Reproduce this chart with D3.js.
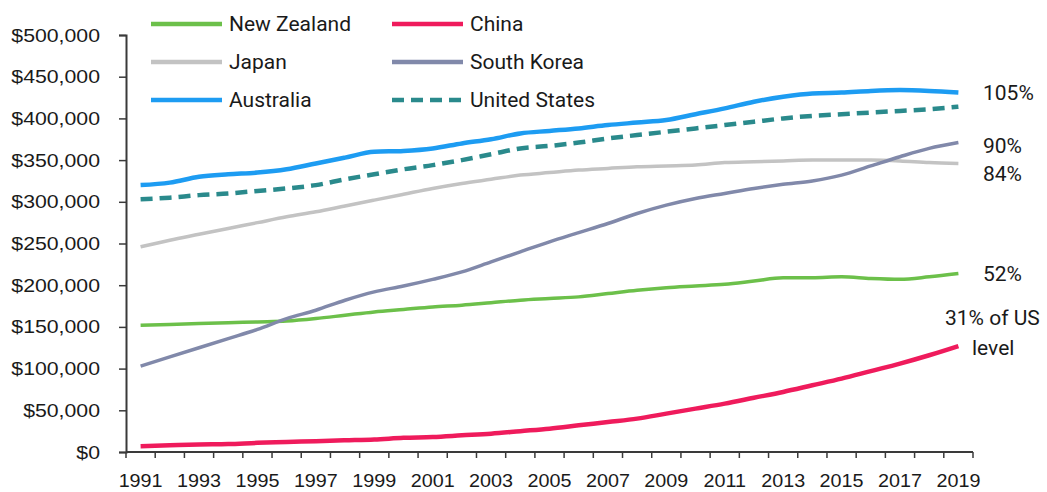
<!DOCTYPE html>
<html>
<head>
<meta charset="utf-8">
<script src="https://cdn.jsdelivr.net/npm/d3@7"></script>
<style>
  html, body { margin: 0; padding: 0; background: #ffffff; }
  svg { display: block; }
</style>
</head>
<body>
<svg id="chart" width="1047" height="492"></svg>
<script>
const years = d3.range(1991, 2020).map(String);
const tickYears = years.filter((y, i) => i % 2 === 0);
const yTicks = [0, 50000, 100000, 150000, 200000, 250000, 300000, 350000, 400000, 450000, 500000];

const newZealand = [152,153,154,155,156,157,160,164,168,171,174,176,179,182,184,186,190,194,197,199,201,205,209,209,210,208,207,210,214].map(v => v * 1000);
const china      = [7,8,9,9.5,11,12,13,14,15,17,18,20,22,25,28,32,36,40,46,52,58,65,72,80,88,97,106,116,127].map(v => v * 1000);
const japan      = [246,254,261,268,275,282,288,295,302,309,316,322,327,332,335,338,340,342,343,344,347,348,349,350,350,350,349,347,346].map(v => v * 1000);
const southKorea = [103,114,125,136,147,160,170,182,192,199,207,216,228,240,252,263,274,286,296,304,310,316,321,325,332,343,354,364,371].map(v => v * 1000);
const australia  = [320,323,330,333,335,339,346,353,360,361,364,370,375,382,385,388,392,395,398,405,412,420,426,430,431,433,434,433,431].map(v => v * 1000);
const unitedStates = [303,305,308,310,313,316,320,327,333,339,344,350,357,364,367,371,376,380,384,388,392,396,400,403,405,407,409,411,414].map(v => v * 1000);

const seriesNames = ["New Zealand", "China", "Japan", "South Korea", "Australia", "United States"];
const seriesValues = [newZealand, china, japan, southKorea, australia, unitedStates];
const endLabels = ["52%", "31% of US", "84%", "90%", "105%", ""];

const colors = {
  "New Zealand": "#6cc04a",
  "China": "#ef1b5c",
  "Japan": "#c3c3c3",
  "South Korea": "#8189aa",
  "Australia": "#1d9cf2",
  "United States": "#2a8a8c"
};

const svg = d3.select("#chart");

const x = d3.scaleBand().domain(years).range([126, 973]);
const y = d3.scaleLinear().domain([0, 500000]).range([452, 35]);

const axisColor = "#3a3a3a";
const tickFont = "'Liberation Sans', Arial, sans-serif";
const legFont = "Roboto, 'Liberation Sans', sans-serif";

// Y axis
const yAxis = svg.append("g").attr("transform", "translate(126,0)")
  .call(d3.axisLeft(y).tickValues(yTicks).tickSize(7).tickPadding(9)
    .tickFormat(d => "$" + d3.format(",")(d)));
yAxis.select(".domain").attr("stroke", axisColor).attr("stroke-width", 2);
yAxis.selectAll(".tick line").attr("stroke", axisColor).attr("stroke-width", 1.5);
yAxis.selectAll(".tick text")
  .attr("font-family", tickFont).attr("font-size", 19).attr("fill", "#1a1a1a")
  .attr("x", -26 / 1.12).attr("transform", "scale(1.12,1)");

// X axis (category axis, ticks between categories)
const xAxis = svg.append("g").attr("transform", "translate(0,452)");
xAxis.append("line").attr("x1", 126).attr("x2", 973).attr("y1", 0).attr("y2", 0)
  .attr("stroke", axisColor).attr("stroke-width", 2);
const boundaries = years.map(d => x(d)).concat([x(years[years.length - 1]) + x.bandwidth()]);
xAxis.selectAll("line.tk").data(boundaries).join("line").attr("class", "tk")
  .attr("x1", d => d).attr("x2", d => d).attr("y1", 0).attr("y2", 6)
  .attr("stroke", axisColor).attr("stroke-width", 1.5);
xAxis.selectAll("text.lbl").data(tickYears).join("text").attr("class", "lbl")
  .attr("transform", d => `translate(${x(d) + x.bandwidth() / 2},35) scale(1.04,1)`)
  .attr("text-anchor", "middle")
  .attr("font-family", tickFont).attr("font-size", 19).attr("fill", "#1a1a1a")
  .text(d => d);

// Lines
const line = d3.line()
  .x((d, i) => x(years[i]) + x.bandwidth() / 2)
  .y(d => y(d))
  .curve(d3.curveMonotoneX);

const drawOrder = ["Japan", "New Zealand", "China", "South Korea", "United States", "Australia"];
drawOrder.forEach(name => {
  const idx = seriesNames.indexOf(name);
  svg.append("path")
    .datum(seriesValues[idx])
    .attr("fill", "none")
    .attr("stroke", colors[name])
    .attr("stroke-width", name === "Australia" || name === "United States" || name === "China" ? 4.5 : 3.5)
    .attr("stroke-dasharray", name === "United States" ? "12,7" : null)
    .attr("stroke-linecap", "butt")
    .attr("d", line);
});

// End labels
const endX = 983;
const ann = svg.append("g").attr("font-family", legFont).attr("font-size", 21).attr("fill", "#1a1a1a");
ann.append("text").attr("x", endX).attr("y", y(australia[28]) + 7).text(endLabels[4]);
ann.append("text").attr("x", endX).attr("y", y(southKorea[28]) + 10).text(endLabels[3]);
ann.append("text").attr("x", endX).attr("y", y(japan[28]) + 18).text(endLabels[2]);
ann.append("text").attr("x", endX).attr("y", y(newZealand[28]) + 7).text(endLabels[0]);
ann.append("text").attr("x", 945).attr("y", y(china[28]) - 21).text(endLabels[1]);
ann.append("text").attr("x", 972).attr("y", y(china[28]) + 9).text("level");

// Legend
const legend = svg.append("g");
const legRows = [["New Zealand", "China"], ["Japan", "South Korea"], ["Australia", "United States"]];
const rowY = [24, 62, 100];
const colX = [151, 392];
legRows.forEach((row, r) => {
  row.forEach((name, c) => {
    const g = legend.append("g").attr("transform", `translate(${colX[c]},${rowY[r]})`);
    g.append("line").attr("x1", 0).attr("x2", 71).attr("y1", 0).attr("y2", 0)
      .attr("stroke", colors[name]).attr("stroke-width", 4.5)
      .attr("stroke-dasharray", name === "United States" ? "12,7" : null);
    g.append("text").attr("x", 78).attr("y", 7)
      .attr("font-family", legFont).attr("font-size", 21).attr("fill", "#1a1a1a")
      .text(name);
  });
});
</script>
</body>
</html>
